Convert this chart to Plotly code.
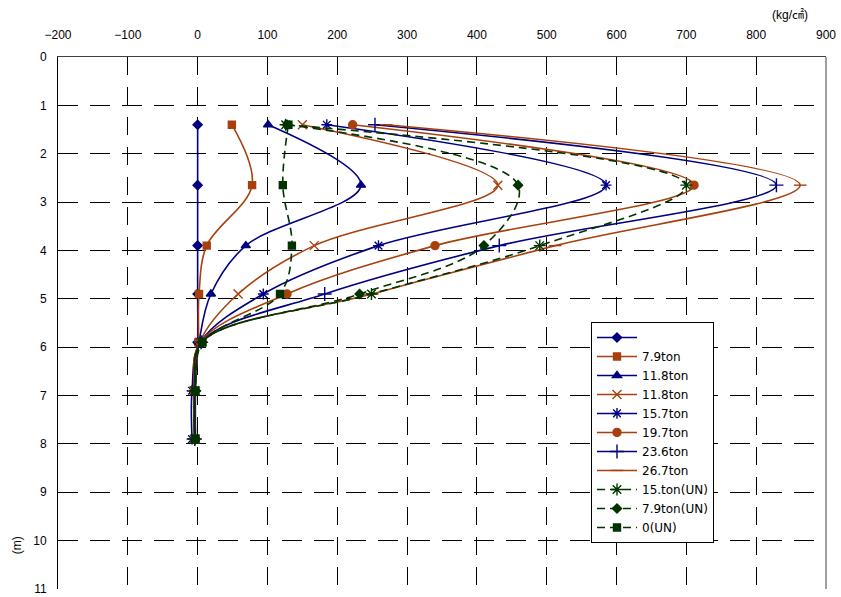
import plotly.graph_objects as go

depth = [1.4, 2.65, 3.9, 4.9, 5.9, 6.9, 7.9]

names = ["", "7.9ton", "11.8ton", "11.8ton", "15.7ton", "19.7ton",
         "23.6ton", "26.7ton", "15.ton(UN)", "7.9ton(UN)", "0(UN)"]

s_blank = [0, 0, 0, 0, 0, -3, -3]
s_79 = [49, 78, 13, 2, 1, -4, -4]
s_118a = [101, 234, 69, 19, 2, -5, -4]
s_118b = [150, 430, 167, 58, 3, -5, -4]
s_157 = [185, 585, 259, 94, 4, -8, -8]
s_197 = [222, 711, 340, 128, 4, -5, -4]
s_236 = [254, 829, 432, 182, 5, -5, -4]
s_267 = [270, 863, 512, 250, 5, -5, -4]
s_15un = [126, 700, 490, 249, 6, -4, -4]
s_79un = [128, 459, 410, 232, 6, -4, -4]
s_0un = [130, 122, 135, 118, 7, -3, -3]

series = [s_blank, s_79, s_118a, s_118b, s_157, s_197, s_236, s_267, s_15un, s_79un, s_0un]

NAVY = "#000080"
BROWN = "#A8400E"
GREEN = "#003300"

styles = [
    (NAVY, "diamond", 7, "solid"),
    (BROWN, "square", 7, "solid"),
    (NAVY, "triangle-up", 8, "solid"),
    (BROWN, "x-thin-open", 9, "solid"),
    (NAVY, "asterisk-open", 9, "solid"),
    (BROWN, "circle", 8, "solid"),
    (NAVY, "cross-thin-open", 10, "solid"),
    (BROWN, "line-ew-open", 9, "solid"),
    (GREEN, "asterisk-open", 10, "8px,5px"),
    (GREEN, "diamond", 7, "8px,5px"),
    (GREEN, "square", 7, "8px,5px"),
]

fig = go.Figure()
for nm, vals, (col, sym, sz, dash) in zip(names, series, styles):
    fig.add_trace(go.Scatter(
        x=vals, y=depth, name=nm if nm else " ",
        mode="lines+markers",
        line=dict(color=col, width=1.6, shape="spline", smoothing=1.0, dash=dash),
        marker=dict(symbol=sym, size=sz, color=col, line=dict(color=col, width=1.4)),
    ))

fig.update_layout(
    width=841, height=597,
    margin=dict(l=58, r=15, t=57, b=8, autoexpand=False),
    paper_bgcolor="white", plot_bgcolor="white",
    font=dict(family="Liberation Sans, Arial, sans-serif", size=12, color="black"),
    showlegend=True,
    legend=dict(x=0.694, y=0.502, xanchor="left", yanchor="top",
                bordercolor="black", borderwidth=1, bgcolor="white",
                font=dict(size=12, family="DejaVu Sans, sans-serif"),
                tracegroupgap=0, itemwidth=40),
    xaxis=dict(side="top", range=[-200, 900], dtick=100, tick0=-200,
               showgrid=True, gridcolor="black", gridwidth=1, griddash="18px,12px",
               zeroline=False, showline=True, linecolor="#404040", linewidth=1,
               ticks="", tickfont=dict(size=12), automargin=False,
               ticklabelstandoff=12),
    yaxis=dict(range=[11, 0], dtick=1, tick0=0,
               showgrid=True, gridcolor="black", gridwidth=1, griddash="20px,12px",
               zeroline=False, showline=True, linecolor="black", linewidth=1,
               ticks="", tickfont=dict(size=12), automargin=False,
               ticklabelstandoff=8),
    shapes=[dict(type="line", xref="paper", yref="paper", x0=1, x1=1, y0=0, y1=1,
                 line=dict(color="#808080", width=1.5))],
    annotations=[
        dict(text="(kg/㎠)", xref="paper", yref="paper", x=0.953, y=1.079,
             xanchor="center", yanchor="middle", showarrow=False,
             font=dict(size=12, family="Liberation Sans, Noto Sans CJK KR, sans-serif")),
        dict(text="(m)", xref="paper", yref="paper", x=-0.053, y=0.083,
             xanchor="center", yanchor="middle", showarrow=False, textangle=-90,
             font=dict(size=12)),
    ],
)

fig.write_html(
    "out.html",
    config={"displayModeBar": False},
    post_script="document.body.style.margin='0';document.body.style.padding='0';",
)
